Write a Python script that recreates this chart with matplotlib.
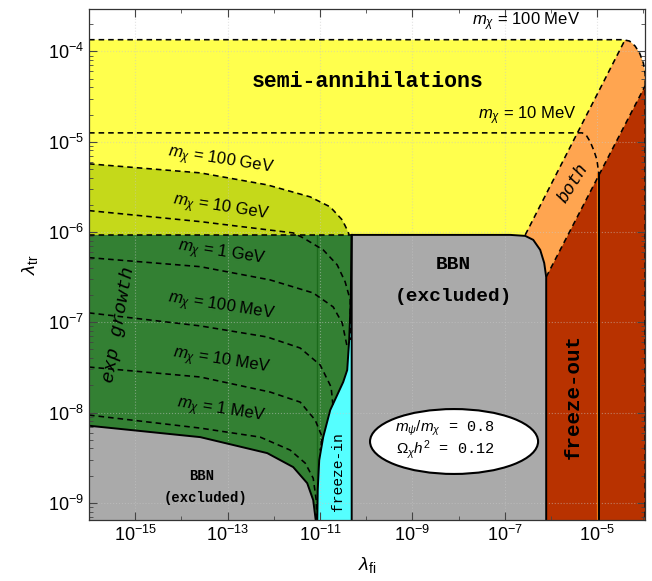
import numpy as np
import matplotlib
matplotlib.use("Agg")
import matplotlib.pyplot as plt
from matplotlib.patches import Ellipse
from matplotlib.ticker import FixedLocator, LogLocator, FuncFormatter, NullFormatter

plt.rcParams['font.family'] = ['Liberation Sans', 'DejaVu Sans']
plt.rcParams['mathtext.fontset'] = 'custom'
plt.rcParams['mathtext.rm'] = 'Liberation Sans'
plt.rcParams['mathtext.it'] = 'Liberation Sans:italic'
plt.rcParams['mathtext.bf'] = 'Liberation Sans:bold'

# all boundaries are log10(lambda_fi), log10(lambda_tr)
X_MIN, X_MAX = -16.0, -3.955
Y_MIN, Y_MAX = -9.19, -3.53
FLOOR = -9.4

# m_chi = 100 MeV contour (top of the yellow region, then down the right edge)
top100_u = [-16.0, -4.437, -4.30, -4.18, -4.08, -4.00, -3.962, -3.962]
top100_v = [-3.870, -3.870, -3.885, -3.94, -4.02, -4.13, -4.25, FLOOR]

# m_chi = 10 MeV contour in the semi-annihilation region
ten_u = [-16.0, -5.325, -5.235, -5.152, -5.07, -5.006, -4.968]
ten_v = [-4.902, -4.902, -4.93, -5.0, -5.1, -5.2, -5.346]
ten_vert_u = [-4.968, -4.968]
ten_vert_v = [-5.346, FLOOR]

# "both" band
band_left_u = [-6.558, -4.40]
band_left_v = [-6.032, -3.874]
band_right_u = [-6.104, -3.962]
band_right_v = [-6.498, -4.38]

# BBN excluded (central block)
bbn_u = [-10.314, -10.314, -6.883, -6.558, -6.385, -6.234, -6.147, -6.104, -6.104]
bbn_v = [FLOOR, -6.032, -6.032, -6.043, -6.087, -6.198, -6.343, -6.498, FLOOR]

# exp growth boundary
green_top = -6.032

# m_chi = 100 GeV (top of the olive region)
gev100_u = [-16.0, -13.593, -12.143, -11.212, -10.779, -10.519, -10.411, -10.368]
gev100_v = [-5.245, -5.345, -5.478, -5.611, -5.722, -5.866, -5.977, -6.032]

# freeze-in boundary
fi_u = [-10.314, -10.335, -10.368, -10.411, -10.498, -10.628, -10.779, -10.931, -11.017, -11.050, -11.061, -11.061]
fi_v = [-6.032, -6.753, -7.196, -7.529, -7.662, -7.806, -7.973, -8.272, -8.527, -8.860, -9.19, FLOOR]

# BBN excluded (lower left)
bbn_low_u = [-16.0, -13.593, -12.143, -11.580, -11.277, -11.147, -11.093, -11.085]
bbn_low_v = [-8.146, -8.272, -8.449, -8.604, -8.782, -8.970, -9.19, FLOOR]

green_line_u = -11.071

# mass contours inside the exp growth region
c10gev_u = [-16.0, -13.593, -11.580, -11.364, -10.931, -10.628, -10.455, -10.346, -10.346]
c10gev_v = [-5.763, -5.885, -6.010, -6.065, -6.198, -6.364, -6.553, -6.753, -7.196]
c1gev_u = [-16.0, -13.593, -12.078, -11.147, -10.714, -10.519, -10.411]
c1gev_v = [-6.284, -6.384, -6.531, -6.675, -6.830, -7.008, -7.274]
c100mev_u = [-16.0, -13.593, -12.143, -11.429, -10.996, -10.760, -10.720]
c100mev_v = [-6.896, -7.040, -7.163, -7.285, -7.473, -7.717, -7.917]
c10mev_u = [-16.0, -13.593, -12.078, -11.429, -11.104, -10.952, -11.0]
c10mev_v = [-7.496, -7.606, -7.773, -7.884, -8.083, -8.272, -8.42]
c1mev_u = [-16.0, -13.593, -12.294, -11.645, -11.320, -11.147, -11.082, -11.061]
c1mev_v = [-8.028, -8.172, -8.272, -8.416, -8.560, -8.727, -8.971, FLOOR]

mass_labels = ['100 GeV', '10 GeV', '1 GeV', '100 MeV', '10 MeV', '1 MeV']
mass_label_v = [-5.212, -5.744, -6.245, -6.832, -7.44, -7.983]
mass_label_u = -13.14

x_major = [-15, -13, -11, -9, -7, -5]
x_minor = [-16, -14, -12, -10, -8, -6, -4]
y_major = [-9, -8, -7, -6, -5, -4]

YELLOW = '#ffff4d'
OLIVE = '#c5d91a'
GREEN = '#338033'
GREY = '#aaaaaa'
CYAN = '#55ffff'
ORANGE = '#ffa550'
RED = '#b83200'


def p(vals):
    return 10.0 ** np.asarray(vals, dtype=float)


fig = plt.figure(figsize=(6.52, 5.81), dpi=100)
ax = fig.add_axes([0.1365, 0.105, 0.8535, 0.8795])
ax.set_xscale('log')
ax.set_yscale('log')

# filled regions
ax.fill(p(top100_u + [-16.0]), p(top100_v + [FLOOR]), color=YELLOW, lw=0, zorder=1)
# orange band; its lower corner tucks under the grey block
orange_u = band_left_u + top100_u[2:7] + band_right_u[::-1] + [bbn_u[3] - 0.05]
orange_v = band_left_v + top100_v[2:7] + band_right_v[::-1] + [band_right_v[0] - 0.1]
ax.fill(p(orange_u), p(orange_v), color=ORANGE, lw=0, zorder=1.1)
ax.fill(p([band_right_u[0]] + band_right_u + [band_right_u[1]]),
        p([FLOOR] + band_right_v + [FLOOR]), color=RED, lw=0, zorder=1.2)
ax.fill(p(bbn_u), p(bbn_v), color=GREY, lw=0, zorder=1.3)
ax.fill(p(gev100_u + [-16.0]), p(gev100_v + [green_top]), color=OLIVE, lw=0, zorder=1.3)
ax.fill(p([-16.0] + fi_u + [-16.0]), p([green_top] + fi_v + [FLOOR]), color=GREEN, lw=0, zorder=1.3)
ax.fill(p(fi_u + [fi_u[0]]), p(fi_v + [FLOOR]), color=CYAN, lw=0, zorder=1.4)
ax.fill(p(bbn_low_u + [-16.0]), p(bbn_low_v + [FLOOR]), color=GREY, lw=0, zorder=1.4)

# grid over the fills
ax.set_axisbelow(False)
ax.grid(True, which='major', ls=':', color='#c8c8c8', lw=0.8, alpha=0.5)

# solid boundaries
solid = dict(color='black', lw=1.4, zorder=3)
ax.plot(p(bbn_u), p(bbn_v), **solid)
ax.plot(p(fi_u), p(fi_v), **solid)
ax.plot(p(bbn_low_u), p(bbn_low_v), **solid)
ax.plot(p([green_line_u, green_line_u]), p([green_top, FLOOR]), color='#1b6a1b', lw=1.0, zorder=2.6)
ax.plot(p([ten_vert_u[0] - 0.03] * 2), p(ten_vert_v), color='#f07a10', lw=0.9, zorder=3)
ax.plot(p(ten_vert_u), p(ten_vert_v), **solid)

# dashed contours
dash = dict(color='black', lw=1.15, ls=(0, (3.5, 2.5)), zorder=3.2)
ax.plot(p(top100_u), p(top100_v), **dash)
ax.plot(p(ten_u), p(ten_v), **dash)
ax.plot(p(band_left_u), p(band_left_v), **dash)
ax.plot(p(band_right_u), p(band_right_v), **dash)
ax.plot(p(gev100_u), p(gev100_v), **dash)
ax.plot(p([-16.0, bbn_u[1]]), p([green_top, green_top]), **dash)
for cu, cv in [(c10gev_u, c10gev_v), (c1gev_u, c1gev_v), (c100mev_u, c100mev_v),
               (c10mev_u, c10mev_v), (c1mev_u, c1mev_v)]:
    ax.plot(p(cu), p(cv), **dash)

# labels
mono = ['Liberation Mono', 'DejaVu Sans Mono']
ax.text(p(-9.98), p(-4.336), 'semi-annihilations', family=mono, weight='bold',
        fontsize=15.5, ha='center', va='center', zorder=5)
ax.text(p(-8.117), p(-6.365), 'BBN', family=mono, weight='bold', fontsize=14,
        ha='center', va='center', zorder=5)
ax.text(p(-8.117), p(-6.709), '(excluded)', family=mono, weight='bold', fontsize=14,
        ha='center', va='center', zorder=5)
ax.text(p(-13.556), p(-8.704), 'BBN', family=mono, weight='bold', fontsize=10,
        ha='center', va='center', zorder=5)
ax.text(p(-13.47), p(-8.948), '(excluded)', family=mono, weight='bold', fontsize=10,
        ha='center', va='center', zorder=5)
ax.text(p(-5.52), p(-7.817), 'freeze-out', family=mono, weight='bold', fontsize=15,
        rotation=90, ha='center', va='center', zorder=5)
ax.text(p(-10.606), p(-8.649), 'freeze-in', family=mono, fontsize=10.5,
        rotation=90, ha='center', va='center', zorder=5)
ax.text(p(-5.52), p(-5.456), 'both', family=mono, style='italic', fontsize=13,
        rotation=58, ha='center', va='center', zorder=5)
ax.text(p(-15.346), p(-7.03), 'exp growth', family=mono, style='italic', fontsize=14,
        rotation=80, ha='center', va='center', zorder=5)

ax.text(p(-6.537), p(-3.671), r'$m_\chi$ = 100 MeV', fontsize=12,
        ha='center', va='center', zorder=5)
ax.text(p(-6.515), p(-4.713), r'$m_\chi$ = 10 MeV', fontsize=12,
        ha='center', va='center', zorder=5)
for lab, lv in zip(mass_labels, mass_label_v):
    ax.text(p(mass_label_u), p(lv), r'$m_\chi$ = ' + lab, fontsize=12, rotation=-9,
            ha='center', va='center', zorder=5)

ell = Ellipse((0.656, 0.1536), 0.302, 0.127, transform=ax.transAxes,
              fc='white', ec='black', lw=1.5, zorder=4)
ax.add_patch(ell)
ax.text(p(-8.29), p(-8.174), r'$m_\psi/m_\chi$ = 0.8', family=mono, fontsize=11,
        ha='center', va='center', zorder=5)
ax.text(p(-8.29), p(-8.407), r'$\Omega_\chi h^2$ = 0.12', family=mono, fontsize=11,
        ha='center', va='center', zorder=5)

# axes
ax.set_xlim(p(X_MIN), p(X_MAX))
ax.set_ylim(p(Y_MIN), p(Y_MAX))
ax.xaxis.set_major_locator(FixedLocator(p(x_major)))
ax.xaxis.set_minor_locator(FixedLocator(p(x_minor)))
ax.xaxis.set_minor_formatter(NullFormatter())
ax.yaxis.set_major_locator(FixedLocator(p(y_major)))
ax.yaxis.set_minor_locator(LogLocator(base=10, subs=np.arange(2, 10)))
ax.yaxis.set_minor_formatter(NullFormatter())
fmt = FuncFormatter(lambda val, pos: r'$10^{%d}$' % int(round(np.log10(val))))
ax.xaxis.set_major_formatter(fmt)
ax.yaxis.set_major_formatter(fmt)
ax.tick_params(which='both', direction='in', top=True, right=True, labelsize=13, color='#444444')
ax.tick_params(which='major', length=6, width=0.8)
ax.tick_params(which='minor', length=3, width=0.6)
for s in ax.spines.values():
    s.set_linewidth(0.9)
    s.set_color('#333333')
    s.set_zorder(6)

ax.set_xlabel(r'$\lambda_{\rm fi}$', fontsize=14, labelpad=7)
ax.set_ylabel(r'$\lambda_{\rm tr}$', fontsize=14, labelpad=6)

fig.savefig('out.png', dpi=100)
